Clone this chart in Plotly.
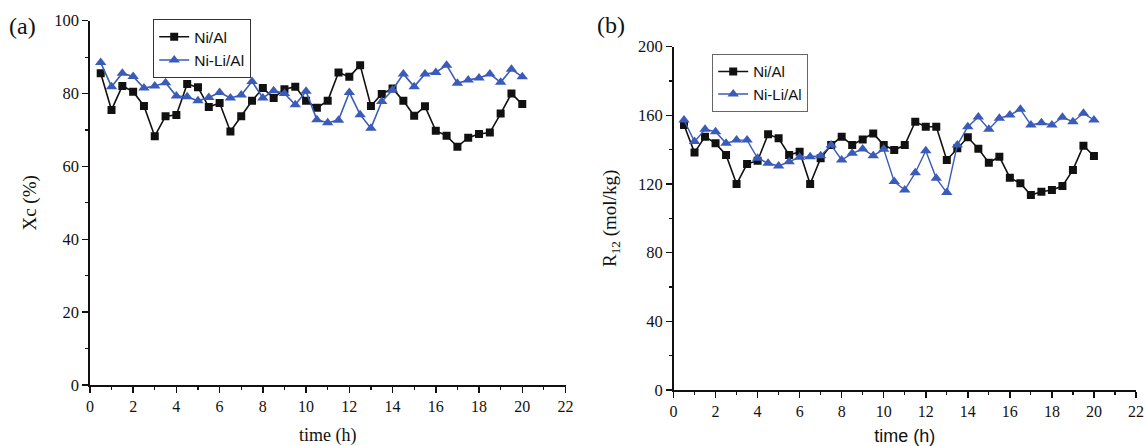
import plotly.graph_objects as go

# ---- data ----
time_h = [0.5, 1.0, 1.5, 2.0, 2.5, 3.0, 3.5, 4.0, 4.5, 5.0,
          5.5, 6.0, 6.5, 7.0, 7.5, 8.0, 8.5, 9.0, 9.5, 10.0,
          10.5, 11.0, 11.5, 12.0, 12.5, 13.0, 13.5, 14.0, 14.5, 15.0,
          15.5, 16.0, 16.5, 17.0, 17.5, 18.0, 18.5, 19.0, 19.5, 20.0]

xc_ni_al = [85.6, 75.5, 82.1, 80.5, 76.6, 68.3, 73.8, 74.1, 82.6, 81.7,
            76.3, 77.4, 69.6, 73.8, 78.0, 81.5, 78.8, 81.2, 81.9, 78.0,
            76.1, 78.0, 85.8, 84.6, 87.8, 76.6, 79.9, 81.4, 78.0, 73.9,
            76.5, 69.8, 68.4, 65.4, 67.9, 68.9, 69.3, 74.5, 80.0, 77.1]

xc_ni_li_al = [88.5, 81.9, 85.6, 84.7, 81.5, 82.1, 83.0, 79.3, 79.1, 78.0,
               78.9, 80.3, 78.8, 79.6, 83.3, 78.8, 80.8, 80.0, 76.9, 80.6,
               72.8, 72.0, 72.7, 80.3, 74.2, 70.5, 77.8, 81.0, 85.4, 81.9,
               85.4, 85.8, 87.8, 82.8, 83.7, 84.3, 85.4, 83.1, 86.7, 84.6]

r12_ni_al = [154.4, 138.3, 147.6, 143.7, 136.9, 120.0, 131.7, 133.6, 149.0, 146.6,
             136.9, 138.8, 120.0, 135.0, 142.7, 147.6, 142.7, 146.0, 149.5, 142.7,
             139.8, 142.7, 156.3, 153.4, 153.4, 134.0, 140.9, 147.2, 140.6, 132.4,
             135.9, 123.7, 120.4, 113.6, 115.5, 116.5, 118.8, 128.2, 142.3, 136.3]

r12_ni_li_al = [157.3, 144.7, 151.9, 150.5, 143.7, 145.6, 145.6, 135.0, 132.1, 130.5,
                133.0, 135.6, 135.9, 136.5, 142.7, 134.0, 137.9, 140.4, 136.5, 140.2,
                121.4, 116.5, 126.6, 139.4, 123.3, 115.0, 142.7, 153.4, 159.0, 151.9,
                158.3, 160.2, 163.5, 154.4, 155.7, 154.4, 158.9, 156.3, 161.2, 157.3]

x_ticks = [0, 2, 4, 6, 8, 10, 12, 14, 16, 18, 20, 22]
ya_ticks = [0, 20, 40, 60, 80, 100]
yb_ticks = [0, 40, 80, 120, 160, 200]

BLACK = "#111111"
BLUE = "#3A5BB8"
W, H = 1146, 446

fig = go.Figure()

# panel (a)
fig.add_trace(go.Scatter(x=time_h, y=xc_ni_al, name="Ni/Al", mode="lines+markers",
                         line=dict(color=BLACK, width=1.6),
                         marker=dict(symbol="square", size=8, color=BLACK),
                         xaxis="x", yaxis="y", legend="legend"))
fig.add_trace(go.Scatter(x=time_h, y=xc_ni_li_al, name="Ni-Li/Al", mode="lines+markers",
                         line=dict(color=BLUE, width=1.6),
                         marker=dict(symbol="triangle-up", size=10, color=BLUE),
                         xaxis="x", yaxis="y", legend="legend"))
# panel (b)
fig.add_trace(go.Scatter(x=time_h, y=r12_ni_al, name="Ni/Al", mode="lines+markers",
                         line=dict(color=BLACK, width=1.6),
                         marker=dict(symbol="square", size=8, color=BLACK),
                         xaxis="x2", yaxis="y2", legend="legend2"))
fig.add_trace(go.Scatter(x=time_h, y=r12_ni_li_al, name="Ni-Li/Al", mode="lines+markers",
                         line=dict(color=BLUE, width=1.4),
                         marker=dict(symbol="triangle-up", size=10, color=BLUE),
                         xaxis="x2", yaxis="y2", legend="legend2"))

serif = "Liberation Serif, Times New Roman, serif"
sans = "Liberation Sans, Arial, sans-serif"

def xaxis_common(title_font_family, standoff):
    return dict(range=[0, 22], tickvals=x_ticks, showline=True, linecolor=BLACK, linewidth=1.5,
                ticks="outside", ticklen=6, tickwidth=1.5, tickcolor=BLACK,
                minor=dict(dtick=1, ticks="outside", ticklen=3.5, tickwidth=1.2, tickcolor=BLACK),
                showgrid=False, zeroline=False, automargin=False,
                tickfont=dict(family=serif, size=16, color=BLACK),
                title=dict(text="time (h)", font=dict(family=title_font_family, size=18, color=BLACK),
                           standoff=standoff))

xa = xaxis_common(serif, 17)
xa["domain"] = [89.9 / W, 565.5 / W]
xa["anchor"] = "y"
xb = xaxis_common(sans, 12)
xb["domain"] = [673.5 / W, 1136 / W]
xb["anchor"] = "y2"

ya = dict(domain=[(H - 385) / H, (H - 20.7) / H], anchor="x", range=[0, 100], tickvals=ya_ticks,
          showline=True, linecolor=BLACK, linewidth=1.5,
          ticks="outside", ticklen=6, tickwidth=1.5, tickcolor=BLACK,
          minor=dict(dtick=10, ticks="outside", ticklen=3.5, tickwidth=1.2, tickcolor=BLACK),
          showgrid=False, zeroline=False, automargin=False,
          tickfont=dict(family=serif, size=16.5, color=BLACK),
          title=dict(text="Xc (%)", font=dict(family=serif, size=19, color=BLACK), standoff=12))
yb = dict(domain=[(H - 390) / H, (H - 46.7) / H], anchor="x2", range=[0, 200], tickvals=yb_ticks,
          showline=True, linecolor=BLACK, linewidth=1.5,
          ticks="outside", ticklen=6, tickwidth=1.5, tickcolor=BLACK,
          minor=dict(dtick=20, ticks="outside", ticklen=3.5, tickwidth=1.2, tickcolor=BLACK),
          showgrid=False, zeroline=False, automargin=False,
          tickfont=dict(family=serif, size=16.5, color=BLACK),
          title=dict(text="R<sub>12</sub> (mol/kg)", font=dict(family=serif, size=19, color=BLACK),
                     standoff=16))

fig.update_layout(
    width=W, height=H, autosize=False,
    margin=dict(l=0, r=0, t=0, b=0, autoexpand=False),
    paper_bgcolor="white", plot_bgcolor="white",
    xaxis=xa, yaxis=ya, xaxis2=xb, yaxis2=yb,
    legend=dict(x=153 / W, y=(H - 19) / H, xanchor="left", yanchor="top",
                bordercolor="#333333", borderwidth=1.2, bgcolor="white",
                font=dict(family=sans, size=15.5, color=BLACK),
                tracegroupgap=0, itemwidth=30),
    legend2=dict(x=712 / W, y=(H - 54) / H, xanchor="left", yanchor="top",
                 bordercolor="#666666", borderwidth=1.2, bgcolor="white",
                 font=dict(family=sans, size=15, color=BLACK),
                 tracegroupgap=0, itemwidth=30),
    annotations=[
        dict(text="(a)", x=7 / W, y=(H - 26) / H, xref="paper", yref="paper",
             xanchor="left", yanchor="middle", showarrow=False,
             font=dict(family=serif, size=24, color=BLACK)),
        dict(text="(b)", x=595 / W, y=(H - 25) / H, xref="paper", yref="paper",
             xanchor="left", yanchor="middle", showarrow=False,
             font=dict(family=serif, size=24, color=BLACK)),
    ],
)

fig.write_html(
    "out.html",
    config={"displayModeBar": False, "staticPlot": True},
    post_script="document.body.style.margin='0';document.body.style.padding='0';"
                "document.documentElement.style.overflow='hidden';",
)
